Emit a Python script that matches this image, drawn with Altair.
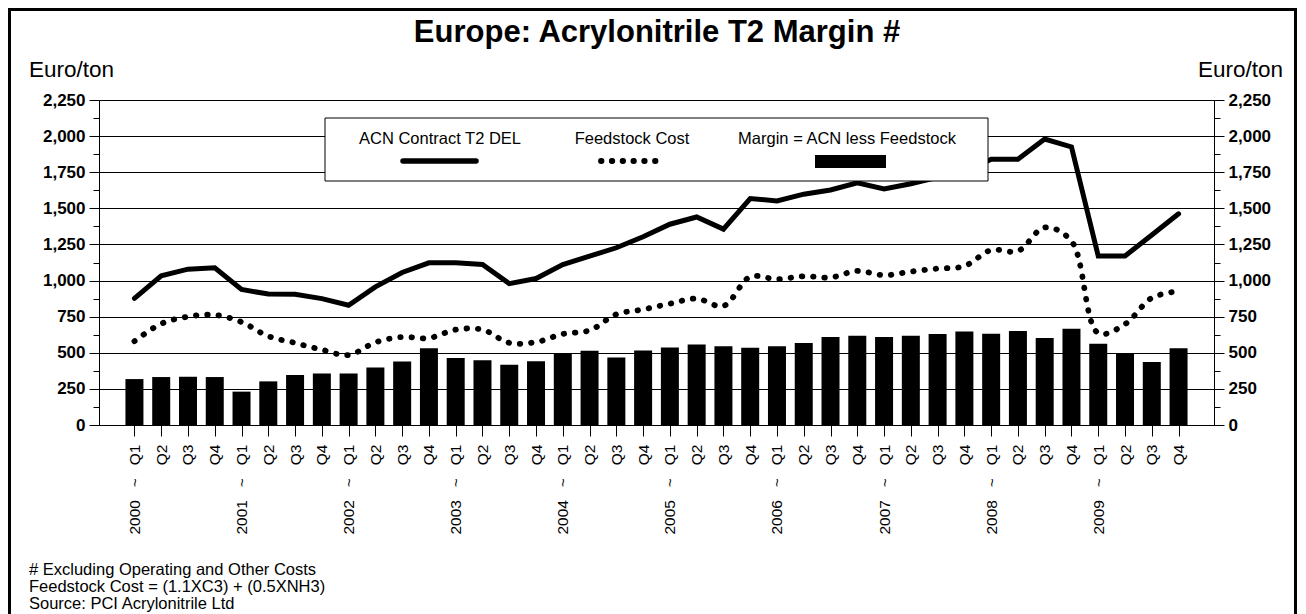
import altair as alt
import pandas as pd

# ---------------- data ----------------
years = ["2000", "2001", "2002", "2003", "2004", "2005", "2006", "2007", "2008", "2009"]
quarters = ["Q1", "Q2", "Q3", "Q4"]

acn_contract = [877, 1033, 1079, 1088, 938, 907, 905, 875, 829, 956,
                1056, 1123, 1123, 1111, 979, 1014, 1111, 1169, 1227, 1303,
                1390, 1440, 1356, 1568, 1551, 1598, 1627, 1676, 1635, 1670,
                1715, 1750, 1840, 1840, 1980, 1925, 1170, 1170, 1315, 1462]

feedstock_cost = [580, 701, 750, 762, 713, 615, 568, 521, 485, 572,
                  609, 602, 660, 660, 569, 574, 630, 655, 766, 800,
                  840, 875, 824, 1026, 1009, 1030, 1021, 1067, 1037, 1062,
                  1083, 1100, 1211, 1204, 1368, 1273, 636, 698, 880, 926]

margin = [318, 332, 334, 332, 231, 302, 346, 357, 357, 398,
          440, 532, 463, 449, 417, 442, 491, 514, 468, 516,
          537, 558, 546, 535, 546, 567, 609, 618, 609, 618,
          630, 648, 632, 651, 602, 667, 563, 491, 436, 531]

major_ticks = [0, 250, 500, 750, 1000, 1250, 1500, 1750, 2000, 2250]
minor_ticks = [125, 375, 625, 875, 1125, 1375, 1625, 1875, 2125]

series_names = ["ACN Contract T2 DEL", "Feedstock Cost", "Margin = ACN less Feedstock"]
title_text = "Europe:  Acrylonitrile T2 Margin #"
unit_text = "Euro/ton"
notes = ["# Excluding Operating and Other Costs",
         "Feedstock Cost = (1.1XC3) + (0.5XNH3)",
         "Source:  PCI Acrylonitrile Ltd"]

GAP = "\u00a0" * 3
period_labels = [f"{y}{GAP}~{GAP}{q}" if q == "Q1" else q for y in years for q in quarters]
idx = list(range(len(period_labels)))
df = pd.DataFrame({"idx": idx, "acn": acn_contract,
                   "feed": feedstock_cost, "margin": margin})
one = pd.DataFrame({"k": [0]})

# ---------------- layout ----------------
W, H = 1115, 325
PAD_L, PAD_T, PAD_R, PAD_B = 91, 92, 84, 190
FONT = "Liberation Sans"

yscale = alt.Scale(domain=[0, 2250], nice=False, zero=True)
xscale = alt.Scale(domain=[-1.137, len(idx) - 1 + 1.137], nice=False, zero=False)

label_expr = "[" + ",".join("'" + s + "'" for s in period_labels) + "][datum.value]"

x_axis = alt.Axis(title=None, values=idx, labelAngle=270, labelAlign="right",
                  labelBaseline="middle", labelFont=FONT, labelFontSize=15.5,
                  labelColor="black", labelPadding=8, tickSize=11, tickColor="black",
                  domainColor="black", grid=False, labelExpr=label_expr,
                  labelOverlap=False, labelFlush=False)


def major_axis(orient, grid):
    return alt.Axis(orient=orient, values=major_ticks, format=",.0f", title=None, grid=grid,
                    gridColor="black", gridOpacity=1, gridWidth=1,
                    tickSize=10, tickColor="black", domainColor="black",
                    labelFont=FONT, labelFontWeight="bold", labelFontSize=17,
                    labelColor="black", labelPadding=4)


def minor_axis(orient):
    return alt.Axis(orient=orient, values=minor_ticks, labels=False, title=None,
                    grid=False, domain=False, tickSize=6, tickColor="black")


xenc = alt.X("idx:Q", scale=xscale, axis=x_axis)

bars = alt.Chart(df).mark_bar(size=18, color="black").encode(
    x=xenc,
    y=alt.Y("margin:Q", scale=yscale, axis=major_axis("left", True)),
)

acn_line = alt.Chart(df).mark_line(color="black", strokeWidth=5, strokeCap="round").encode(
    x=xenc,
    y=alt.Y("acn:Q", scale=yscale, axis=major_axis("right", False)),
)

feed_line = alt.Chart(df).mark_line(color="black", strokeWidth=5.8, strokeDash=[0.5, 10.8],
                                    strokeCap="round", interpolate="catmull-rom").encode(
    x=xenc,
    y=alt.Y("feed:Q", scale=yscale, axis=minor_axis("left")),
)

minor_right = alt.Chart(df).mark_point(opacity=0).encode(
    x=xenc,
    y=alt.Y("margin:Q", scale=yscale, axis=minor_axis("right")),
)

# ---------------- legend (drawn by hand) ----------------
leg_box = alt.Chart(one).mark_rect(fill="white", stroke="black", strokeWidth=1).encode(
    x=alt.value(226), x2=alt.value(889), y=alt.value(18), y2=alt.value(81))

leg_pos = [341, 533, 748]
leg_texts = [
    alt.Chart(one).mark_text(text=name, font=FONT, fontSize=16.5, color="black",
                             align="center", baseline="middle").encode(
        x=alt.value(px), y=alt.value(39))
    for name, px in zip(series_names, leg_pos)
]

leg_solid = alt.Chart(one).mark_rule(color="black", strokeWidth=5.5, strokeCap="round").encode(
    x=alt.value(304), x2=alt.value(377), y=alt.value(61))
leg_dots = alt.Chart(one).mark_rule(color="black", strokeWidth=5.8, strokeDash=[0.5, 10.3],
                                    strokeCap="round").encode(
    x=alt.value(502), x2=alt.value(566), y=alt.value(61))
leg_rect = alt.Chart(one).mark_rect(color="black").encode(
    x=alt.value(716), x2=alt.value(787), y=alt.value(55), y2=alt.value(68))

# ---------------- annotations ----------------
title = alt.Chart(one).mark_text(text=title_text, font=FONT, fontSize=31, fontWeight="bold",
                                 color="black", align="center", baseline="alphabetic").encode(
    x=alt.value(558), y=alt.value(-58))
unit_left = alt.Chart(one).mark_text(text=unit_text, font=FONT, fontSize=22.5, color="black",
                                     align="left", baseline="alphabetic").encode(
    x=alt.value(-70), y=alt.value(-23))
unit_right = alt.Chart(one).mark_text(text=unit_text, font=FONT, fontSize=22.5, color="black",
                                      align="right", baseline="alphabetic").encode(
    x=alt.value(1184), y=alt.value(-23))
note_layers = [
    alt.Chart(one).mark_text(text=t, font=FONT, fontSize=16.5, color="black",
                             align="left", baseline="alphabetic").encode(
        x=alt.value(-70), y=alt.value(475 + 17 * i))
    for i, t in enumerate(notes)
]

frame = alt.Chart(one).mark_rect(fillOpacity=0, stroke="black", strokeWidth=3).encode(
    x=alt.value(-89.5), x2=alt.value(1196.5), y=alt.value(-90.5), y2=alt.value(560))

chart = alt.layer(
    bars, acn_line, feed_line, minor_right,
    leg_box, *leg_texts, leg_solid, leg_dots, leg_rect,
    title, unit_left, unit_right, *note_layers, frame,
).resolve_axis(y="independent").properties(
    width=W, height=H,
    padding={"left": PAD_L, "top": PAD_T, "right": PAD_R, "bottom": PAD_B},
    autosize=alt.AutoSizeParams(type="none"),
).configure_view(stroke=None).configure(font=FONT, background="white")

chart.save("out.html", embed_options={"renderer": "svg", "actions": False})
